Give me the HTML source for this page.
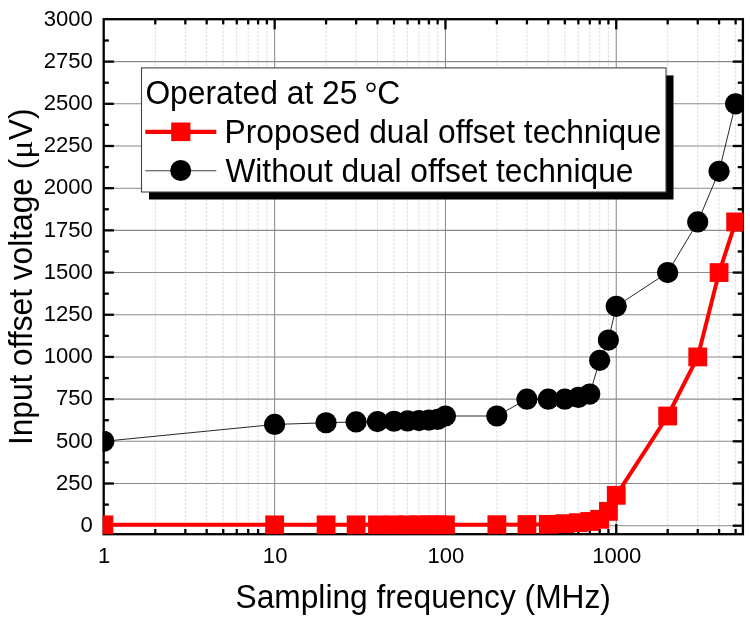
<!DOCTYPE html>
<html lang="en">
<head>
<meta charset="utf-8">
<title>Input offset voltage vs sampling frequency</title>
<style>
html,body{margin:0;padding:0;background:#fff;}
body{width:750px;height:622px;overflow:hidden;}
svg text{white-space:pre;}
</style>
</head>
<body>
<svg width="750" height="622" viewBox="0 0 750 622" style="display:block">
<rect width="750" height="622" fill="#fff"/>
<defs><clipPath id="pc"><rect x="102.60" y="18.10" width="640.70" height="516.50"/></clipPath></defs>
<g stroke="#dadada" stroke-width="1" stroke-dasharray="2.3 1.7" fill="none">
<line x1="155.27" y1="19.20" x2="155.27" y2="534.20"/>
<line x1="185.34" y1="19.20" x2="185.34" y2="534.20"/>
<line x1="206.68" y1="19.20" x2="206.68" y2="534.20"/>
<line x1="223.23" y1="19.20" x2="223.23" y2="534.20"/>
<line x1="236.76" y1="19.20" x2="236.76" y2="534.20"/>
<line x1="248.19" y1="19.20" x2="248.19" y2="534.20"/>
<line x1="258.10" y1="19.20" x2="258.10" y2="534.20"/>
<line x1="266.83" y1="19.20" x2="266.83" y2="534.20"/>
<line x1="326.07" y1="19.20" x2="326.07" y2="534.20"/>
<line x1="356.14" y1="19.20" x2="356.14" y2="534.20"/>
<line x1="377.48" y1="19.20" x2="377.48" y2="534.20"/>
<line x1="394.03" y1="19.20" x2="394.03" y2="534.20"/>
<line x1="407.56" y1="19.20" x2="407.56" y2="534.20"/>
<line x1="418.99" y1="19.20" x2="418.99" y2="534.20"/>
<line x1="428.90" y1="19.20" x2="428.90" y2="534.20"/>
<line x1="437.63" y1="19.20" x2="437.63" y2="534.20"/>
<line x1="496.87" y1="19.20" x2="496.87" y2="534.20"/>
<line x1="526.94" y1="19.20" x2="526.94" y2="534.20"/>
<line x1="548.28" y1="19.20" x2="548.28" y2="534.20"/>
<line x1="564.83" y1="19.20" x2="564.83" y2="534.20"/>
<line x1="578.36" y1="19.20" x2="578.36" y2="534.20"/>
<line x1="589.79" y1="19.20" x2="589.79" y2="534.20"/>
<line x1="599.70" y1="19.20" x2="599.70" y2="534.20"/>
<line x1="608.43" y1="19.20" x2="608.43" y2="534.20"/>
<line x1="667.67" y1="19.20" x2="667.67" y2="534.20"/>
<line x1="697.74" y1="19.20" x2="697.74" y2="534.20"/>
<line x1="719.08" y1="19.20" x2="719.08" y2="534.20"/>
<line x1="735.63" y1="19.20" x2="735.63" y2="534.20"/>
</g>
<g stroke="#8a8a8a" stroke-width="1.05" fill="none">
<line x1="274.65" y1="19.20" x2="274.65" y2="534.20"/>
<line x1="445.45" y1="19.20" x2="445.45" y2="534.20"/>
<line x1="616.25" y1="19.20" x2="616.25" y2="534.20"/>
<line x1="103.70" y1="525.70" x2="742.90" y2="525.70"/>
<line x1="103.70" y1="483.51" x2="742.90" y2="483.51"/>
<line x1="103.70" y1="441.32" x2="742.90" y2="441.32"/>
<line x1="103.70" y1="399.13" x2="742.90" y2="399.13"/>
<line x1="103.70" y1="356.94" x2="742.90" y2="356.94"/>
<line x1="103.70" y1="314.75" x2="742.90" y2="314.75"/>
<line x1="103.70" y1="272.56" x2="742.90" y2="272.56"/>
<line x1="103.70" y1="230.37" x2="742.90" y2="230.37"/>
<line x1="103.70" y1="188.18" x2="742.90" y2="188.18"/>
<line x1="103.70" y1="145.99" x2="742.90" y2="145.99"/>
<line x1="103.70" y1="103.80" x2="742.90" y2="103.80"/>
<line x1="103.70" y1="61.61" x2="742.90" y2="61.61"/>
</g>
<g stroke="#000" stroke-width="2.3" fill="none">
<rect x="103.70" y="19.20" width="639.20" height="515.00"/>
<line x1="103.70" y1="525.70" x2="113.90" y2="525.70"/>
<line x1="742.90" y1="525.70" x2="732.70" y2="525.70"/>
<line x1="103.70" y1="504.61" x2="108.90" y2="504.61"/>
<line x1="742.90" y1="504.61" x2="737.70" y2="504.61"/>
<line x1="103.70" y1="483.51" x2="113.90" y2="483.51"/>
<line x1="742.90" y1="483.51" x2="732.70" y2="483.51"/>
<line x1="103.70" y1="462.42" x2="108.90" y2="462.42"/>
<line x1="742.90" y1="462.42" x2="737.70" y2="462.42"/>
<line x1="103.70" y1="441.32" x2="113.90" y2="441.32"/>
<line x1="742.90" y1="441.32" x2="732.70" y2="441.32"/>
<line x1="103.70" y1="420.23" x2="108.90" y2="420.23"/>
<line x1="742.90" y1="420.23" x2="737.70" y2="420.23"/>
<line x1="103.70" y1="399.13" x2="113.90" y2="399.13"/>
<line x1="742.90" y1="399.13" x2="732.70" y2="399.13"/>
<line x1="103.70" y1="378.04" x2="108.90" y2="378.04"/>
<line x1="742.90" y1="378.04" x2="737.70" y2="378.04"/>
<line x1="103.70" y1="356.94" x2="113.90" y2="356.94"/>
<line x1="742.90" y1="356.94" x2="732.70" y2="356.94"/>
<line x1="103.70" y1="335.85" x2="108.90" y2="335.85"/>
<line x1="742.90" y1="335.85" x2="737.70" y2="335.85"/>
<line x1="103.70" y1="314.75" x2="113.90" y2="314.75"/>
<line x1="742.90" y1="314.75" x2="732.70" y2="314.75"/>
<line x1="103.70" y1="293.66" x2="108.90" y2="293.66"/>
<line x1="742.90" y1="293.66" x2="737.70" y2="293.66"/>
<line x1="103.70" y1="272.56" x2="113.90" y2="272.56"/>
<line x1="742.90" y1="272.56" x2="732.70" y2="272.56"/>
<line x1="103.70" y1="251.47" x2="108.90" y2="251.47"/>
<line x1="742.90" y1="251.47" x2="737.70" y2="251.47"/>
<line x1="103.70" y1="230.37" x2="113.90" y2="230.37"/>
<line x1="742.90" y1="230.37" x2="732.70" y2="230.37"/>
<line x1="103.70" y1="209.28" x2="108.90" y2="209.28"/>
<line x1="742.90" y1="209.28" x2="737.70" y2="209.28"/>
<line x1="103.70" y1="188.18" x2="113.90" y2="188.18"/>
<line x1="742.90" y1="188.18" x2="732.70" y2="188.18"/>
<line x1="103.70" y1="167.09" x2="108.90" y2="167.09"/>
<line x1="742.90" y1="167.09" x2="737.70" y2="167.09"/>
<line x1="103.70" y1="145.99" x2="113.90" y2="145.99"/>
<line x1="742.90" y1="145.99" x2="732.70" y2="145.99"/>
<line x1="103.70" y1="124.90" x2="108.90" y2="124.90"/>
<line x1="742.90" y1="124.90" x2="737.70" y2="124.90"/>
<line x1="103.70" y1="103.80" x2="113.90" y2="103.80"/>
<line x1="742.90" y1="103.80" x2="732.70" y2="103.80"/>
<line x1="103.70" y1="82.71" x2="108.90" y2="82.71"/>
<line x1="742.90" y1="82.71" x2="737.70" y2="82.71"/>
<line x1="103.70" y1="61.61" x2="113.90" y2="61.61"/>
<line x1="742.90" y1="61.61" x2="732.70" y2="61.61"/>
<line x1="103.70" y1="40.52" x2="108.90" y2="40.52"/>
<line x1="742.90" y1="40.52" x2="737.70" y2="40.52"/>
<line x1="155.27" y1="19.20" x2="155.27" y2="24.40"/>
<line x1="155.27" y1="534.20" x2="155.27" y2="529.00"/>
<line x1="185.34" y1="19.20" x2="185.34" y2="24.40"/>
<line x1="185.34" y1="534.20" x2="185.34" y2="529.00"/>
<line x1="206.68" y1="19.20" x2="206.68" y2="24.40"/>
<line x1="206.68" y1="534.20" x2="206.68" y2="529.00"/>
<line x1="223.23" y1="19.20" x2="223.23" y2="24.40"/>
<line x1="223.23" y1="534.20" x2="223.23" y2="529.00"/>
<line x1="236.76" y1="19.20" x2="236.76" y2="24.40"/>
<line x1="236.76" y1="534.20" x2="236.76" y2="529.00"/>
<line x1="248.19" y1="19.20" x2="248.19" y2="24.40"/>
<line x1="248.19" y1="534.20" x2="248.19" y2="529.00"/>
<line x1="258.10" y1="19.20" x2="258.10" y2="24.40"/>
<line x1="258.10" y1="534.20" x2="258.10" y2="529.00"/>
<line x1="266.83" y1="19.20" x2="266.83" y2="24.40"/>
<line x1="266.83" y1="534.20" x2="266.83" y2="529.00"/>
<line x1="274.65" y1="19.20" x2="274.65" y2="29.40"/>
<line x1="274.65" y1="534.20" x2="274.65" y2="524.00"/>
<line x1="326.07" y1="19.20" x2="326.07" y2="24.40"/>
<line x1="326.07" y1="534.20" x2="326.07" y2="529.00"/>
<line x1="356.14" y1="19.20" x2="356.14" y2="24.40"/>
<line x1="356.14" y1="534.20" x2="356.14" y2="529.00"/>
<line x1="377.48" y1="19.20" x2="377.48" y2="24.40"/>
<line x1="377.48" y1="534.20" x2="377.48" y2="529.00"/>
<line x1="394.03" y1="19.20" x2="394.03" y2="24.40"/>
<line x1="394.03" y1="534.20" x2="394.03" y2="529.00"/>
<line x1="407.56" y1="19.20" x2="407.56" y2="24.40"/>
<line x1="407.56" y1="534.20" x2="407.56" y2="529.00"/>
<line x1="418.99" y1="19.20" x2="418.99" y2="24.40"/>
<line x1="418.99" y1="534.20" x2="418.99" y2="529.00"/>
<line x1="428.90" y1="19.20" x2="428.90" y2="24.40"/>
<line x1="428.90" y1="534.20" x2="428.90" y2="529.00"/>
<line x1="437.63" y1="19.20" x2="437.63" y2="24.40"/>
<line x1="437.63" y1="534.20" x2="437.63" y2="529.00"/>
<line x1="445.45" y1="19.20" x2="445.45" y2="29.40"/>
<line x1="445.45" y1="534.20" x2="445.45" y2="524.00"/>
<line x1="496.87" y1="19.20" x2="496.87" y2="24.40"/>
<line x1="496.87" y1="534.20" x2="496.87" y2="529.00"/>
<line x1="526.94" y1="19.20" x2="526.94" y2="24.40"/>
<line x1="526.94" y1="534.20" x2="526.94" y2="529.00"/>
<line x1="548.28" y1="19.20" x2="548.28" y2="24.40"/>
<line x1="548.28" y1="534.20" x2="548.28" y2="529.00"/>
<line x1="564.83" y1="19.20" x2="564.83" y2="24.40"/>
<line x1="564.83" y1="534.20" x2="564.83" y2="529.00"/>
<line x1="578.36" y1="19.20" x2="578.36" y2="24.40"/>
<line x1="578.36" y1="534.20" x2="578.36" y2="529.00"/>
<line x1="589.79" y1="19.20" x2="589.79" y2="24.40"/>
<line x1="589.79" y1="534.20" x2="589.79" y2="529.00"/>
<line x1="599.70" y1="19.20" x2="599.70" y2="24.40"/>
<line x1="599.70" y1="534.20" x2="599.70" y2="529.00"/>
<line x1="608.43" y1="19.20" x2="608.43" y2="24.40"/>
<line x1="608.43" y1="534.20" x2="608.43" y2="529.00"/>
<line x1="616.25" y1="19.20" x2="616.25" y2="29.40"/>
<line x1="616.25" y1="534.20" x2="616.25" y2="524.00"/>
<line x1="667.67" y1="19.20" x2="667.67" y2="24.40"/>
<line x1="667.67" y1="534.20" x2="667.67" y2="529.00"/>
<line x1="697.74" y1="19.20" x2="697.74" y2="24.40"/>
<line x1="697.74" y1="534.20" x2="697.74" y2="529.00"/>
<line x1="719.08" y1="19.20" x2="719.08" y2="24.40"/>
<line x1="719.08" y1="534.20" x2="719.08" y2="529.00"/>
<line x1="735.63" y1="19.20" x2="735.63" y2="24.40"/>
<line x1="735.63" y1="534.20" x2="735.63" y2="529.00"/>
</g>
<g clip-path="url(#pc)">
<polyline points="103.85,441.32 274.65,424.44 326.07,422.76 356.14,421.91 377.48,421.58 394.03,421.24 407.56,420.90 418.99,420.56 428.90,420.06 437.63,419.38 445.45,416.01 496.87,416.01 526.94,399.13 548.28,399.13 564.83,399.13 578.36,397.44 589.79,394.07 599.70,360.32 608.43,340.06 616.25,306.31 667.67,272.56 697.74,221.93 719.08,171.30 735.63,103.80" fill="none" stroke="#000" stroke-width="0.85"/>
<polyline points="103.85,524.86 274.65,524.86 326.07,524.86 356.14,524.86 377.48,524.86 394.03,524.86 407.56,524.86 418.99,524.86 428.90,524.86 437.63,524.86 445.45,524.86 496.87,524.69 526.94,524.52 548.28,524.35 564.83,523.67 578.36,522.66 589.79,521.48 599.70,519.29 608.43,511.36 616.25,495.32 667.67,416.01 697.74,356.94 719.08,272.56 735.63,221.93" fill="none" stroke="#f00" stroke-width="4" stroke-linejoin="round"/>
<rect x="94.45" y="515.46" width="18.8" height="18.8" fill="#f00"/>
<rect x="265.25" y="515.46" width="18.8" height="18.8" fill="#f00"/>
<rect x="316.67" y="515.46" width="18.8" height="18.8" fill="#f00"/>
<rect x="346.74" y="515.46" width="18.8" height="18.8" fill="#f00"/>
<rect x="368.08" y="515.46" width="18.8" height="18.8" fill="#f00"/>
<rect x="384.63" y="515.46" width="18.8" height="18.8" fill="#f00"/>
<rect x="398.16" y="515.46" width="18.8" height="18.8" fill="#f00"/>
<rect x="409.59" y="515.46" width="18.8" height="18.8" fill="#f00"/>
<rect x="419.50" y="515.46" width="18.8" height="18.8" fill="#f00"/>
<rect x="428.23" y="515.46" width="18.8" height="18.8" fill="#f00"/>
<rect x="436.05" y="515.46" width="18.8" height="18.8" fill="#f00"/>
<rect x="487.47" y="515.29" width="18.8" height="18.8" fill="#f00"/>
<rect x="517.54" y="515.12" width="18.8" height="18.8" fill="#f00"/>
<rect x="538.88" y="514.95" width="18.8" height="18.8" fill="#f00"/>
<rect x="555.43" y="514.27" width="18.8" height="18.8" fill="#f00"/>
<rect x="568.96" y="513.26" width="18.8" height="18.8" fill="#f00"/>
<rect x="580.39" y="512.08" width="18.8" height="18.8" fill="#f00"/>
<rect x="590.30" y="509.89" width="18.8" height="18.8" fill="#f00"/>
<rect x="599.03" y="501.96" width="18.8" height="18.8" fill="#f00"/>
<rect x="606.85" y="485.92" width="18.8" height="18.8" fill="#f00"/>
<rect x="658.27" y="406.61" width="18.8" height="18.8" fill="#f00"/>
<rect x="688.34" y="347.54" width="18.8" height="18.8" fill="#f00"/>
<rect x="709.68" y="263.16" width="18.8" height="18.8" fill="#f00"/>
<rect x="726.23" y="212.53" width="18.8" height="18.8" fill="#f00"/>
<circle cx="103.85" cy="441.32" r="10.6" fill="#000"/>
<circle cx="274.65" cy="424.44" r="10.6" fill="#000"/>
<circle cx="326.07" cy="422.76" r="10.6" fill="#000"/>
<circle cx="356.14" cy="421.91" r="10.6" fill="#000"/>
<circle cx="377.48" cy="421.58" r="10.6" fill="#000"/>
<circle cx="394.03" cy="421.24" r="10.6" fill="#000"/>
<circle cx="407.56" cy="420.90" r="10.6" fill="#000"/>
<circle cx="418.99" cy="420.56" r="10.6" fill="#000"/>
<circle cx="428.90" cy="420.06" r="10.6" fill="#000"/>
<circle cx="437.63" cy="419.38" r="10.6" fill="#000"/>
<circle cx="445.45" cy="416.01" r="10.6" fill="#000"/>
<circle cx="496.87" cy="416.01" r="10.6" fill="#000"/>
<circle cx="526.94" cy="399.13" r="10.6" fill="#000"/>
<circle cx="548.28" cy="399.13" r="10.6" fill="#000"/>
<circle cx="564.83" cy="399.13" r="10.6" fill="#000"/>
<circle cx="578.36" cy="397.44" r="10.6" fill="#000"/>
<circle cx="589.79" cy="394.07" r="10.6" fill="#000"/>
<circle cx="599.70" cy="360.32" r="10.6" fill="#000"/>
<circle cx="608.43" cy="340.06" r="10.6" fill="#000"/>
<circle cx="616.25" cy="306.31" r="10.6" fill="#000"/>
<circle cx="667.67" cy="272.56" r="10.6" fill="#000"/>
<circle cx="697.74" cy="221.93" r="10.6" fill="#000"/>
<circle cx="719.08" cy="171.30" r="10.6" fill="#000"/>
<circle cx="735.63" cy="103.80" r="10.6" fill="#000"/>
</g>
<g font-family="'Liberation Sans', Arial, Helvetica, sans-serif" fill="#000">
<text transform="translate(92.80,532.00) scale(1.0,1.028)" font-size="22.1" text-anchor="end">0</text>
<text transform="translate(92.80,489.81) scale(1.0,1.028)" font-size="22.1" text-anchor="end">250</text>
<text transform="translate(92.80,447.62) scale(1.0,1.028)" font-size="22.1" text-anchor="end">500</text>
<text transform="translate(92.80,405.43) scale(1.0,1.028)" font-size="22.1" text-anchor="end">750</text>
<text transform="translate(92.80,363.24) scale(1.0,1.028)" font-size="22.1" text-anchor="end">1000</text>
<text transform="translate(92.80,321.05) scale(1.0,1.028)" font-size="22.1" text-anchor="end">1250</text>
<text transform="translate(92.80,278.86) scale(1.0,1.028)" font-size="22.1" text-anchor="end">1500</text>
<text transform="translate(92.80,236.67) scale(1.0,1.028)" font-size="22.1" text-anchor="end">1750</text>
<text transform="translate(92.80,194.48) scale(1.0,1.028)" font-size="22.1" text-anchor="end">2000</text>
<text transform="translate(92.80,152.29) scale(1.0,1.028)" font-size="22.1" text-anchor="end">2250</text>
<text transform="translate(92.80,110.10) scale(1.0,1.028)" font-size="22.1" text-anchor="end">2500</text>
<text transform="translate(92.80,67.91) scale(1.0,1.028)" font-size="22.1" text-anchor="end">2750</text>
<text transform="translate(92.80,25.72) scale(1.0,1.028)" font-size="22.1" text-anchor="end">3000</text>
<text transform="translate(104.05,562.80) scale(1.0,1.028)" font-size="22.1" text-anchor="middle">1</text>
<text transform="translate(275.15,562.80) scale(1.0,1.028)" font-size="22.1" text-anchor="middle">10</text>
<text transform="translate(445.95,562.80) scale(1.0,1.028)" font-size="22.1" text-anchor="middle">100</text>
<text transform="translate(616.75,562.80) scale(1.0,1.028)" font-size="22.1" text-anchor="middle">1000</text>
<text transform="translate(235.50,607.80) scale(1.0,1.028)" font-size="31.72" text-anchor="start">Sampling frequency (MHz)</text>
<g transform="translate(31.9,445.1) rotate(-90)">
<text transform="translate(0.00,0.00) scale(1.0,1.028)" font-size="31.68" text-anchor="start">Input offset voltage (</text>
<text transform="translate(295.50,0.00) scale(1.07,1.0)" font-size="31.68" text-anchor="middle" font-family="'Liberation Serif', 'DejaVu Serif', serif">μ</text>
<text transform="translate(315.50,0.00) scale(1.0,1.028)" font-size="31.68" text-anchor="middle">V</text>
<text transform="translate(331.30,0.00) scale(1.0,1.028)" font-size="31.68" text-anchor="middle">)</text>
</g>
</g>
<rect x="149.00" y="75.40" width="524.50" height="124.10" fill="#000"/>
<rect x="141.50" y="67.90" width="524.50" height="124.10" fill="#fff" stroke="#444" stroke-width="1.1"/>
<line x1="145.3" y1="131.8" x2="216.3" y2="131.8" stroke="#f00" stroke-width="4.2"/>
<rect x="171.20" y="122.50" width="19.2" height="18.6" fill="#f00"/>
<line x1="145.3" y1="170.8" x2="216.3" y2="170.8" stroke="#444" stroke-width="1.1"/>
<circle cx="180.7" cy="170.5" r="10.5" fill="#000"/>
<g font-family="'Liberation Sans', Arial, Helvetica, sans-serif" fill="#000">
<text transform="translate(145.40,104.40) scale(1.0,1.028)" font-size="31.8" text-anchor="start">Operated at 25</text>
<text transform="translate(371.00,103.80) scale(1.0,1.0)" font-size="31.3" text-anchor="middle" font-family="'Liberation Serif', 'DejaVu Serif', serif">°</text>
<text transform="translate(388.70,104.40) scale(1.0,1.028)" font-size="31.8" text-anchor="middle">C</text>
<text transform="translate(224.60,142.70) scale(1.0,1.028)" font-size="31.74" text-anchor="start">Proposed dual offset technique</text>
<text transform="translate(225.40,181.60) scale(1.0,1.028)" font-size="31.7" text-anchor="start">Without dual offset technique</text>
</g>
</svg>
</body>
</html>
